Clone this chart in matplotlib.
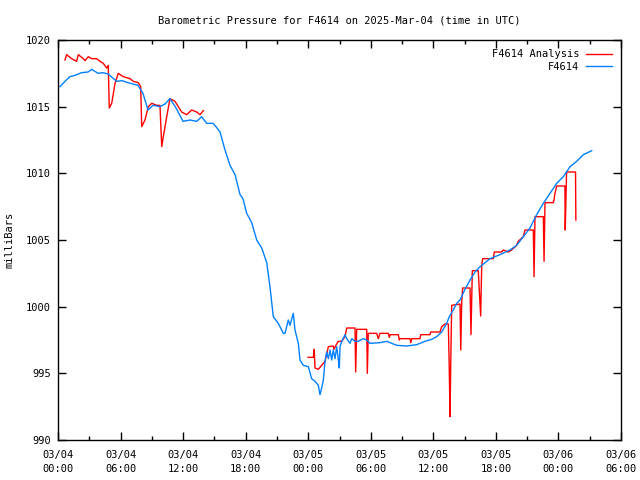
import numpy as np
import matplotlib
matplotlib.use("Agg")
import matplotlib.pyplot as plt
from matplotlib.ticker import MultipleLocator

# hours since 2025-03-04 00:00 UTC
obs_hours = [0.19, 0.67, 1.15, 1.63, 2.27, 2.88, 3.23, 3.84, 4.32, 4.80, 5.63, 6.14, 6.71, 7.67,
             8.15, 8.63, 9.11, 9.78, 10.26, 10.74, 11.32, 11.99, 12.66, 13.30, 13.78, 14.26, 14.87,
             15.15, 15.54, 16.02, 16.50, 16.98, 17.46, 17.74, 18.10, 18.58, 19.06, 19.54, 20.02,
             20.33, 20.65, 21.13, 21.61, 21.77, 22.09, 22.25, 22.57, 22.73, 23.05, 23.21, 23.53,
             24.01, 24.33, 24.65, 24.97, 25.13, 25.29, 25.45, 25.61, 25.77, 25.93, 26.09, 26.25,
             26.40, 26.57, 26.73, 26.88, 26.98, 27.05, 27.21, 27.53, 27.69, 28.01, 28.17, 28.49,
             28.80, 29.28, 29.61, 29.92, 30.88, 31.53, 32.01, 32.49, 33.45, 34.40, 35.20, 35.84,
             36.32, 36.80, 37.28, 37.53, 37.91, 38.24, 38.56, 39.04, 39.52, 40.00, 40.48, 40.96,
             41.44, 42.39, 43.35, 43.99, 44.63, 45.27, 45.91, 46.55, 47.19, 47.83, 48.47, 49.11,
             49.75, 50.39, 51.19]
obs_pressure = [1016.5, 1016.9, 1017.25, 1017.35, 1017.55, 1017.6, 1017.8, 1017.5, 1017.55, 1017.45,
                1016.9, 1016.95, 1016.8, 1016.6, 1016.0, 1014.75, 1015.1, 1015.0, 1015.2, 1015.6,
                1014.9, 1013.9, 1014.0, 1013.9, 1014.25, 1013.75, 1013.75, 1013.5, 1013.1, 1011.75,
                1010.6, 1009.9, 1008.4, 1008.1, 1007.0, 1006.3, 1005.0, 1004.4, 1003.3, 1001.5,
                999.25, 998.75, 998.0, 998.0, 999.0, 998.6, 999.5, 998.25, 997.25, 996.0, 995.6,
                995.5, 994.6, 994.4, 994.1, 993.4, 993.9, 994.5, 995.9, 996.6, 996.1, 996.75, 996.0,
                996.75, 996.1, 997.0, 996.1, 995.4, 997.0, 997.4, 997.9, 997.6, 997.25, 997.6, 997.4,
                997.4, 997.6, 997.5, 997.25, 997.3, 997.4, 997.25, 997.1, 997.05, 997.15, 997.4,
                997.55, 997.75, 998.1, 998.75, 999.25, 999.75, 1000.25, 1000.5, 1001.3, 1002.0,
                1002.6, 1003.0, 1003.3, 1003.6, 1003.9, 1004.25, 1004.6, 1005.25, 1005.9, 1006.9,
                1007.75, 1008.5, 1009.25, 1009.75, 1010.5, 1010.9, 1011.4, 1011.7]

ana_hours = [0.67, 0.83, 1.31, 1.79, 1.95, 2.43, 2.59, 2.91, 3.23, 3.71, 4.03, 4.34, 4.67, 4.82,
             4.92, 5.15, 5.47, 5.78, 6.26, 6.91, 7.22, 7.70, 7.93, 8.03, 8.34, 8.66, 8.99, 9.47,
             9.78, 9.95, 10.10, 10.43, 10.74, 11.22, 11.86, 12.34, 12.82, 13.30, 13.62, 13.94,
             18.0,
             23.98, 24.49, 24.58, 24.65, 24.97, 25.29, 25.61, 25.93, 26.40, 26.47, 26.66, 26.88,
             27.21, 27.53, 27.69, 28.49, 28.55, 28.65, 29.61, 29.67, 29.76, 30.57, 30.72, 30.88,
             31.68, 31.78, 31.85, 32.64, 32.74, 32.80, 33.76, 33.83, 33.93, 34.72, 34.79, 35.68,
             35.75, 36.64, 36.80, 37.12, 37.44, 37.53, 37.60, 37.67, 37.76, 38.56, 38.63, 38.72,
             38.81, 39.52, 39.61, 39.74, 40.31, 40.54, 40.64, 40.73, 41.75, 41.85, 42.55, 42.71,
             43.19, 43.51, 43.99, 44.14, 44.63, 44.79, 45.59, 45.66, 45.75, 46.55, 46.62, 46.71,
             47.51, 47.57, 47.67, 47.83, 48.62, 48.65, 48.78, 49.64, 49.67]
ana_pressure = [1018.5, 1018.9, 1018.6, 1018.4, 1018.9, 1018.6, 1018.45, 1018.75, 1018.6, 1018.6,
                1018.4, 1018.25, 1017.9, 1018.1, 1014.9, 1015.25, 1016.75, 1017.5, 1017.25, 1017.1,
                1016.9, 1016.8, 1016.5, 1013.5, 1014.0, 1015.0, 1015.25, 1015.1, 1015.1, 1012.0,
                1012.75, 1014.25, 1015.6, 1015.4, 1014.6, 1014.4, 1014.75, 1014.6, 1014.4, 1014.7,
                np.nan,
                996.2, 996.2, 996.8, 995.4, 995.3, 995.6, 995.9, 997.0, 997.05, 996.8, 997.1, 997.4,
                997.4, 997.75, 998.4, 998.4, 995.1, 998.3, 998.3, 995.0, 998.0, 998.0, 997.6, 998.0,
                998.0, 997.7, 997.9, 997.9, 997.5, 997.6, 997.6, 997.3, 997.6, 997.6, 997.9, 997.9,
                998.1, 998.1, 998.5, 998.7, 998.7, 995.25, 991.75, 995.75, 1000.1, 1000.2, 996.75,
                1000.3, 1001.4, 1001.4, 997.9, 1002.7, 1002.7, 999.3, 1003.1, 1003.6, 1003.6,
                1004.1, 1004.1, 1004.25, 1004.1, 1004.25, 1004.6, 1004.9, 1005.25, 1005.75, 1005.75,
                1002.25, 1006.75, 1006.75, 1003.4, 1007.8, 1007.8, 1008.0, 1008.5, 1009.05, 1009.05,
                1005.75, 1010.1, 1010.1, 1006.5]

x_tick_hours = [0, 6, 12, 18, 24, 30, 36, 42, 48, 54]
x_tick_labels = ["03/04\n00:00", "03/04\n06:00", "03/04\n12:00", "03/04\n18:00",
                 "03/05\n00:00", "03/05\n06:00", "03/05\n12:00", "03/05\n18:00",
                 "03/06\n00:00", "03/06\n06:00"]
y_ticks = [990, 995, 1000, 1005, 1010, 1015, 1020]

plt.rcParams['font.family'] = ['DejaVu Sans Mono']
fig = plt.figure(figsize=(6.4, 4.8), dpi=100)
ax = fig.add_axes([58/640, 40/480, (621-58)/640, 400/480])

ax.plot(ana_hours, ana_pressure, color='#ff0000', lw=1.0, label='F4614 Analysis')
ax.plot(obs_hours, obs_pressure, color='#0080ff', lw=1.0, label='F4614')

ax.set_xlim(0, 54)
ax.set_ylim(990, 1020)
ax.set_xticks(x_tick_hours)
ax.set_xticklabels(x_tick_labels, fontsize=7.5, linespacing=1.5)
ax.xaxis.set_minor_locator(MultipleLocator(3))
ax.set_yticks(y_ticks)
ax.set_yticklabels([str(v) for v in y_ticks], fontsize=7.5)
ax.tick_params(which='both', direction='in', top=True, right=True, width=1)
ax.tick_params(which='major', length=6)
ax.tick_params(axis='x', which='major', pad=7)
ax.tick_params(axis='y', which='major', pad=5)
ax.tick_params(which='minor', length=3)
for s in ax.spines.values():
    s.set_linewidth(1)
ax.set_ylabel('milliBars', fontsize=7.5, labelpad=8)
ax.set_title('Barometric Pressure for F4614 on 2025-Mar-04 (time in UTC)', fontsize=7.5, pad=12)
ax.legend(loc='upper right', frameon=False, markerfirst=False, fontsize=7.5,
          handlelength=2.5, handletextpad=0.6, labelspacing=0.25, borderaxespad=0.5)
for t in ax.get_legend().get_texts():
    t.set_ha('right')
fig.savefig('out.png', dpi=100)
